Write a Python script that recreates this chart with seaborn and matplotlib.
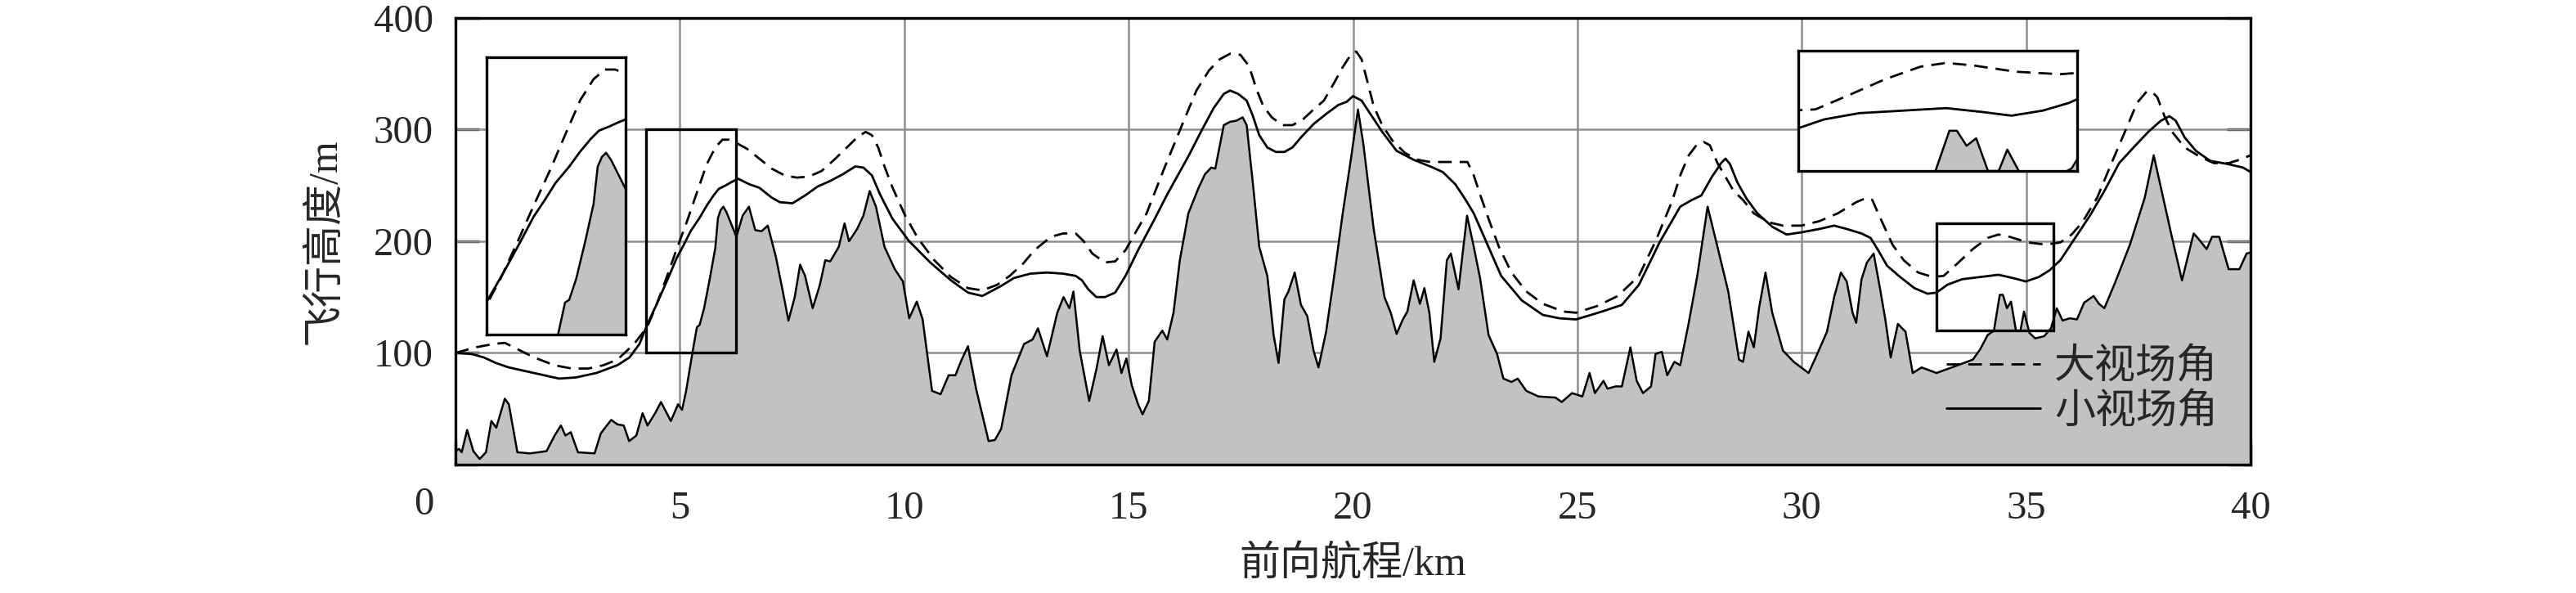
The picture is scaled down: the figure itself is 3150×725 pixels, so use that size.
import numpy as np
import pandas as pd
import seaborn as sns
import matplotlib.pyplot as plt
from matplotlib.patches import Rectangle

# 地形剖面 (km, m)
terrain_km = [0.00, 0.08, 0.14, 0.26, 0.40, 0.54, 0.68, 0.80, 0.91, 1.10, 1.19, 1.38, 1.66, 2.03, 2.21,
              2.35, 2.45, 2.57, 2.73, 3.10, 3.24, 3.47, 3.61, 3.75, 3.87, 4.03, 4.17, 4.28, 4.45, 4.58,
              4.80, 4.96, 5.05, 5.14, 5.28, 5.38, 5.44, 5.54, 5.67, 5.79, 5.85, 5.91, 5.97, 6.04, 6.14,
              6.26, 6.40, 6.54, 6.68,
              6.82, 6.96, 7.14, 7.28, 7.42, 7.56, 7.68, 7.79, 7.96, 8.12, 8.24, 8.35, 8.44, 8.54, 8.67,
              8.77, 8.95, 9.09, 9.23, 9.37, 9.56, 9.79, 9.97, 10.11, 10.28, 10.41, 10.62, 10.81, 10.99,
              11.14, 11.28, 11.42, 11.60, 11.88, 12.02, 12.16, 12.39, 12.67, 12.86, 12.98, 13.18, 13.41,
              13.55, 13.68, 13.77, 13.91, 14.12, 14.28, 14.42, 14.56, 14.73, 14.84, 14.95, 15.07, 15.21,
              15.31, 15.45, 15.58, 15.75, 15.86, 16.00, 16.14, 16.33, 16.56, 16.70, 16.84, 16.93, 17.12,
              17.26, 17.40, 17.54, 17.63, 17.77, 17.91, 18.09, 18.23, 18.34, 18.47, 18.56, 18.70, 18.84,
              18.98, 19.12, 19.23, 19.40, 19.58, 19.77, 19.95, 20.11, 20.23, 20.46, 20.70, 20.84, 20.97,
              21.11, 21.21, 21.35, 21.49, 21.59, 21.70, 21.81, 21.95, 22.09, 22.18, 22.35, 22.54, 22.69,
              22.83, 23.02, 23.21, 23.35, 23.53, 23.67, 23.86, 24.13, 24.51, 24.65, 24.88, 25.11, 25.27,
              25.39, 25.58, 25.67, 25.85, 25.99, 26.18, 26.32, 26.46, 26.64, 26.74, 26.88, 27.00, 27.16,
              27.29, 27.48, 27.67, 27.90, 28.12, 28.36, 28.60, 28.69, 28.81, 28.93, 29.05, 29.19, 29.34,
              29.58, 29.82, 30.15, 30.31, 30.56, 30.72, 30.87, 31.00, 31.13, 31.21, 31.33, 31.45, 31.60,
              31.74, 31.86, 31.98, 32.14, 32.31, 32.47, 32.67, 33.00, 33.41, 33.81, 33.97, 34.14, 34.28,
              34.41, 34.48, 34.57, 34.66, 34.77, 34.87, 34.95, 35.07, 35.20, 35.40, 35.55, 35.68, 35.81,
              35.97, 36.13, 36.29, 36.50, 36.62, 36.74, 36.99, 37.31, 37.64, 37.84, 38.00, 38.25, 38.47,
              38.73, 38.82, 39.02, 39.14, 39.30, 39.51, 39.75, 39.91, 40.00]
terrain_m = [12, 14, 11, 31, 12, 5, 11, 39, 33, 59, 54, 11, 10, 12, 26,
             35, 26, 29, 11, 10, 28, 40, 36, 35, 21, 26, 46, 35, 46, 56,
             39, 54, 49, 66, 100, 123, 125, 140, 167, 194, 221, 228, 231, 226, 216,
             204, 223, 231, 210,
             209, 214, 186, 158, 129, 150, 179, 169, 140, 161, 183, 182, 188, 195, 216,
             200, 211, 223, 245, 231, 195, 175, 164, 131, 146, 130, 66, 63, 80,
             80, 94, 106, 68, 21, 22, 32, 80, 108, 112, 122, 97, 136,
             150, 140, 155, 102, 57, 85, 115, 89, 103, 82, 95, 71, 54,
             45, 57, 110, 120, 112, 136, 183, 225, 248, 260, 266, 265, 304,
             307, 308, 311, 304, 251, 195, 169, 116, 91, 148, 155, 172, 143,
             133, 102, 87, 119, 169, 225, 273, 318, 287, 211, 150, 136, 117,
             130, 137, 165, 144, 158, 136, 92, 113, 183, 189, 157, 223, 195,
             167, 116, 99, 77, 74, 77, 66, 61, 60, 56, 64, 61, 82,
             64, 75, 68, 70, 70, 105, 75, 64, 70, 99, 101, 80, 92,
             89, 127, 169, 231, 195, 155, 94, 92, 119, 105, 141, 172, 136,
             102, 92, 82, 96, 119, 150, 172, 164, 136, 127, 166, 181, 189,
             158, 130, 96, 126, 119, 82, 87, 82, 88, 94, 103, 116, 120,
             152, 152, 140, 146, 120, 120, 137, 118, 113, 115, 122, 140, 129,
             131, 130, 145, 151, 144, 140, 164, 197, 239, 277, 248, 203, 165,
             207, 203, 193, 204, 204, 175, 175, 189, 190]

# 大视场角航迹
wide_km = [0.00, 0.45, 0.85, 1.10, 1.40, 1.75, 2.20, 2.59, 2.96, 3.30, 3.61, 3.98, 4.27, 4.46, 4.70,
           4.93, 5.17, 5.40, 5.60, 5.79, 5.95, 6.10, 6.26, 6.49, 6.77, 7.05, 7.33, 7.61, 7.88, 8.16,
           8.44, 8.72, 8.95, 9.14, 9.28, 9.42, 9.56, 9.74, 10.02, 10.30, 10.67, 11.04, 11.42, 11.74,
           12.07, 12.35, 12.65, 12.90, 13.27, 13.54, 13.82, 14.00, 14.19, 14.47, 14.70, 14.93, 15.17,
           15.40, 15.77, 16.24, 16.51, 16.79, 17.03, 17.26, 17.49, 17.68, 17.86, 18.00, 18.19, 18.42,
           18.65, 18.88, 19.12, 19.35, 19.58, 19.77, 19.95, 20.07, 20.19, 20.32, 20.46, 20.65, 20.88,
           21.16, 21.44, 21.72, 22.55, 22.69, 22.83, 23.02, 23.25, 23.53, 23.86, 24.23, 24.69, 24.97,
           25.44, 25.90, 26.37, 26.74, 27.11, 27.30, 27.48, 27.65, 27.81, 27.95, 28.12, 28.28, 28.48,
           28.69, 28.93, 29.26, 29.58, 29.99, 30.39, 30.80, 31.05, 31.21, 31.45, 31.57, 31.70, 31.86,
           32.02, 32.27, 32.59, 32.92, 33.16, 33.49, 33.81, 34.14, 34.38, 34.63, 35.03, 35.44, 35.76,
           36.01, 36.25, 36.58, 36.90, 37.23, 37.47, 37.68, 37.80, 37.92, 38.08, 38.25, 38.53, 38.86,
           39.18, 39.51, 39.75, 40.00]
wide_m = [100, 105, 108, 109, 103, 96, 89, 86, 86, 89, 94, 108, 123, 141, 167,
          193, 219, 246, 269, 284, 291, 291, 288, 283, 274, 265, 259, 257, 258, 263,
          273, 284, 293, 298, 295, 284, 267, 248, 223, 203, 183, 168, 158, 156,
          161, 169, 180, 192, 204, 207, 207, 200, 189, 181, 182, 192, 209,
          225, 263, 309, 335, 353, 363, 368, 367, 357, 335, 321, 311, 304,
          304, 309, 318, 326, 342, 356, 367, 370, 363, 343, 321, 304, 290,
          279, 273, 271, 271, 259, 242, 220, 195, 172, 155, 144, 137, 136,
          142, 151, 169, 200, 236, 260, 277, 286, 289, 286, 270, 259, 245,
          237, 225, 217, 214, 214, 218, 225, 231, 235, 239, 237, 225, 211,
          197, 183, 172, 168, 169, 181, 193, 203, 206, 204, 199, 197, 199,
          206, 217, 239, 270, 301, 324, 334, 334, 329, 312, 298, 284, 276,
          270, 270, 273, 277]

# 小视场角航迹
narrow_km = [0.00, 0.36, 0.63, 0.90, 1.19, 1.75, 2.31, 2.68, 3.14, 3.61, 3.88, 4.10, 4.27, 4.50, 4.74,
             4.93, 5.09, 5.24, 5.44, 5.60, 5.75, 5.87, 6.02, 6.15, 6.30, 6.55, 6.77, 7.05, 7.23, 7.51,
             7.79, 8.07, 8.35, 8.63, 8.91, 9.09, 9.28, 9.46, 9.74, 10.11, 10.58, 11.04, 11.42, 11.74,
             12.16, 12.44, 12.81, 13.18, 13.54, 13.82, 13.96, 14.10, 14.28, 14.47, 14.70, 14.93, 15.21,
             15.58, 15.86, 16.33, 16.61, 16.89, 17.12, 17.26, 17.44, 17.63, 17.77, 17.91, 18.09, 18.28,
             18.47, 18.65, 18.84, 19.12, 19.40, 19.67, 19.86, 20.00, 20.19, 20.42, 20.65, 20.97, 21.35,
             21.72, 22.00, 22.28, 22.51, 22.69, 22.93, 23.30, 23.76, 24.23, 24.60, 24.97, 25.30, 25.62,
             25.99, 26.37, 26.83, 27.29, 27.55, 27.76, 28.00, 28.12, 28.20, 28.30, 28.40, 28.56, 28.77,
             29.01, 29.34, 29.66, 29.99, 30.39, 30.72, 31.00, 31.33, 31.53, 31.70, 31.90, 32.19, 32.51,
             32.80, 33.00, 33.24, 33.57, 33.97, 34.38, 34.71, 34.99, 35.28, 35.52, 35.76, 36.09, 36.42,
             36.74, 37.07, 37.39, 37.72, 38.00, 38.19, 38.33, 38.53, 38.78, 39.10, 39.51, 39.83, 40.00]
narrow_m = [100, 99, 96, 91, 87, 82, 77, 78, 82, 89, 96, 108, 125, 145, 167,
            185, 197, 209, 221, 232, 241, 247, 250, 253, 256, 251, 248, 239, 235, 234,
            241, 249, 254, 260, 267, 266, 259, 242, 220, 200, 181, 165, 154, 151,
            160, 167, 171, 172, 171, 169, 165, 157, 150, 150, 154, 169, 192,
            220, 242, 276, 298, 319, 332, 335, 332, 326, 312, 295, 284, 280,
            280, 284, 293, 305, 314, 322, 325, 330, 326, 312, 298, 281, 273,
            267, 262, 251, 237, 225, 203, 169, 147, 134, 131, 130, 134, 138,
            143, 161, 199, 231, 237, 241, 258, 265, 270, 274, 269, 253, 238,
            225, 213, 206, 208, 211, 214, 211, 207, 203, 192, 178, 168, 158,
            153, 154, 161, 166, 168, 170, 167, 164, 168, 174, 183, 203, 223,
            245, 270, 284, 298, 308, 312, 308, 293, 281, 272, 269, 266, 262]

x_ticks = [0, 5, 10, 15, 20, 25, 30, 35, 40]
y_ticks = [0, 100, 200, 300, 400]

# 局部放大: 被放大区域 (x0, y0, 宽, 高) 与放大图位置
zoom_area_a = [4.25, 100, 2.0, 200]
zoom_box_a = [0.69, 116.5, 3.10, 248.5]
zoom_area_b = [33.0, 120, 2.6, 96]
zoom_box_b = [29.92, 263, 6.21, 108]

TERRAIN_GREY = '#c1c2c4'
GRID_GREY = '#8f8f8f'

sns.set_style('white')
plt.rcParams['font.family'] = ['Liberation Serif', 'Noto Sans CJK SC']
plt.rcParams['axes.unicode_minus'] = False

fig = plt.figure(figsize=(31.5, 7.25), dpi=100)
ax = fig.add_axes([0.1768, 0.2166, 0.6969, 0.7531])


def draw_profile(a, with_label):
    a.fill_between(terrain_km, 0, terrain_m, color=TERRAIN_GREY, lw=0, zorder=2)
    a.plot(terrain_km, terrain_m, color='k', lw=1.8, zorder=3)
    kw_w = dict(label='大视场角') if with_label else {}
    kw_n = dict(label='小视场角') if with_label else {}
    sns.lineplot(x=wide_km, y=wide_m, ax=a, color='k', lw=2.0,
                 linestyle=(0, (6, 3.5)), zorder=4, legend=False, **kw_w)
    sns.lineplot(x=narrow_km, y=narrow_m, ax=a, color='k', lw=2.0,
                 zorder=4, legend=False, **kw_n)


draw_profile(ax, True)

# 网格线放在地形下面
for v in x_ticks[1:-1]:
    ax.axvline(v, color=GRID_GREY, lw=1.8, zorder=1)
for v in y_ticks[1:-1]:
    ax.axhline(v, color=GRID_GREY, lw=1.8, zorder=1)

ax.set_xlim(0, 40)
ax.set_ylim(0, 400)
ax.set_xticks(x_ticks)
ax.set_yticks(y_ticks)
ax.set_xticklabels([''] + [str(v) for v in x_ticks[1:]])
ax.set_yticklabels([''] + [str(v) for v in y_ticks[1:]])
ax.tick_params(direction='in', length=21, width=2.4, color='k',
               left=True, right=True, bottom=True, top=False, labelsize=35)
ax.tick_params(axis='x', pad=23)
ax.tick_params(axis='y', pad=19.5)
for s in ax.spines.values():
    s.set_linewidth(2.4)
    s.set_color('k')
ax.set_xlabel('')
ax.set_ylabel('')

ax.annotate('0', xy=(0, 0), xycoords='data', xytext=(-28, -35),
            textcoords='offset points', ha='center', va='center', fontsize=35)

for area, box in [(zoom_area_a, zoom_box_a), (zoom_area_b, zoom_box_b)]:
    ax.add_patch(Rectangle((area[0], area[1]), area[2], area[3], fill=False,
                           ec='k', lw=2.4, zorder=5))
    ins = ax.inset_axes(box, transform=ax.transData)
    ins.set_facecolor('white')
    draw_profile(ins, False)
    ins.set_xlim(area[0], area[0] + area[2])
    ins.set_ylim(area[1], area[1] + area[3])
    ins.set_xticks([])
    ins.set_yticks([])
    ins.set_xlabel('')
    ins.set_ylabel('')
    for s in ins.spines.values():
        s.set_linewidth(2.4)
        s.set_color('k')

ax.legend(loc='lower right', frameon=False, fontsize=36, handlelength=2.3,
          handletextpad=0.35, labelspacing=0.15, borderaxespad=0.4)

fig.text(0.525, 0.0483, '前向航程/km', ha='center', va='center', fontsize=36)
fig.text(0.126, 0.593, '飞行高度/m', ha='center', va='center', rotation=90, fontsize=36)

fig.savefig('out.png', dpi=100)
